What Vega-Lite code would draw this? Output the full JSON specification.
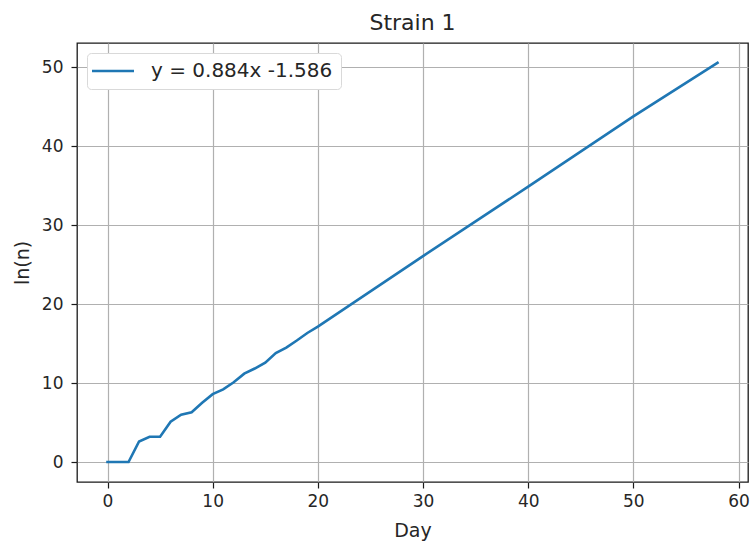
{
  "$schema": "https://vega.github.io/schema/vega-lite/v6.json",
  "width": 671,
  "height": 439,
  "autosize": "none",
  "padding": {"left": 77, "top": 43, "right": 2, "bottom": 63},
  "config": {
    "font": "DejaVu Sans",
    "view": {"stroke": "#1a1a1a", "strokeWidth": 1.3},
    "axis": {
      "grid": true,
      "gridColor": "#b0b0b0",
      "gridWidth": 1.2,
      "domain": false,
      "tickColor": "#1a1a1a",
      "tickSize": 6,
      "tickWidth": 1.2,
      "labelFontSize": 17,
      "labelColor": "#262626",
      "labelPadding": 5,
      "titleFontSize": 19,
      "titleFontWeight": "normal",
      "titleColor": "#262626"
    }
  },
  "title": {"text": "Strain 1", "fontSize": 22, "fontWeight": "normal", "color": "#262626", "offset": 8},
  "data": {
    "values": [
      {"day": 0, "lnn": 0, "series": "y = 0.884x -1.586"},
      {"day": 1, "lnn": 0, "series": "y = 0.884x -1.586"},
      {"day": 2, "lnn": 0, "series": "y = 0.884x -1.586"},
      {"day": 3, "lnn": 2.6, "series": "y = 0.884x -1.586"},
      {"day": 4, "lnn": 3.2, "series": "y = 0.884x -1.586"},
      {"day": 5, "lnn": 3.2, "series": "y = 0.884x -1.586"},
      {"day": 6, "lnn": 5.1, "series": "y = 0.884x -1.586"},
      {"day": 7, "lnn": 6.0, "series": "y = 0.884x -1.586"},
      {"day": 8, "lnn": 6.3, "series": "y = 0.884x -1.586"},
      {"day": 9, "lnn": 7.5, "series": "y = 0.884x -1.586"},
      {"day": 10, "lnn": 8.6, "series": "y = 0.884x -1.586"},
      {"day": 11, "lnn": 9.2, "series": "y = 0.884x -1.586"},
      {"day": 12, "lnn": 10.1, "series": "y = 0.884x -1.586"},
      {"day": 13, "lnn": 11.2, "series": "y = 0.884x -1.586"},
      {"day": 14, "lnn": 11.85, "series": "y = 0.884x -1.586"},
      {"day": 15, "lnn": 12.6, "series": "y = 0.884x -1.586"},
      {"day": 16, "lnn": 13.8, "series": "y = 0.884x -1.586"},
      {"day": 17, "lnn": 14.5, "series": "y = 0.884x -1.586"},
      {"day": 18, "lnn": 15.4, "series": "y = 0.884x -1.586"},
      {"day": 19, "lnn": 16.35, "series": "y = 0.884x -1.586"},
      {"day": 20, "lnn": 17.15, "series": "y = 0.884x -1.586"},
      {"day": 30, "lnn": 26.1, "series": "y = 0.884x -1.586"},
      {"day": 40, "lnn": 34.9, "series": "y = 0.884x -1.586"},
      {"day": 50, "lnn": 43.8, "series": "y = 0.884x -1.586"},
      {"day": 58, "lnn": 50.6, "series": "y = 0.884x -1.586"}
    ]
  },
  "mark": {"type": "line", "strokeWidth": 2.6, "strokeCap": "square"},
  "encoding": {
    "x": {
      "field": "day", "type": "quantitative", "title": "Day",
      "scale": {"domain": [-2.9, 60.9], "nice": false, "zero": false},
      "axis": {"values": [0, 10, 20, 30, 40, 50, 60], "titlePadding": 12}
    },
    "y": {
      "field": "lnn", "type": "quantitative", "title": "ln(n)",
      "scale": {"domain": [-2.53, 53.1], "nice": false, "zero": false},
      "axis": {"values": [0, 10, 20, 30, 40, 50], "titlePadding": 9, "labelPadding": 8}
    },
    "color": {
      "field": "series", "type": "nominal",
      "scale": {"range": ["#1f77b4"]},
      "legend": {
        "title": null,
        "orient": "none",
        "legendX": 10,
        "legendY": 10,
        "symbolType": "M-3,0H3",
        "symbolSize": 196,
        "symbolStrokeWidth": 2.6,
        "symbolOffset": 8,
        "labelFontSize": 20,
        "labelColor": "#262626",
        "labelOffset": 28,
        "labelLimit": 400,
        "strokeColor": "#d9d9d9",
        "fillColor": "#ffffff",
        "cornerRadius": 4,
        "padding": 8
      }
    }
  }
}
